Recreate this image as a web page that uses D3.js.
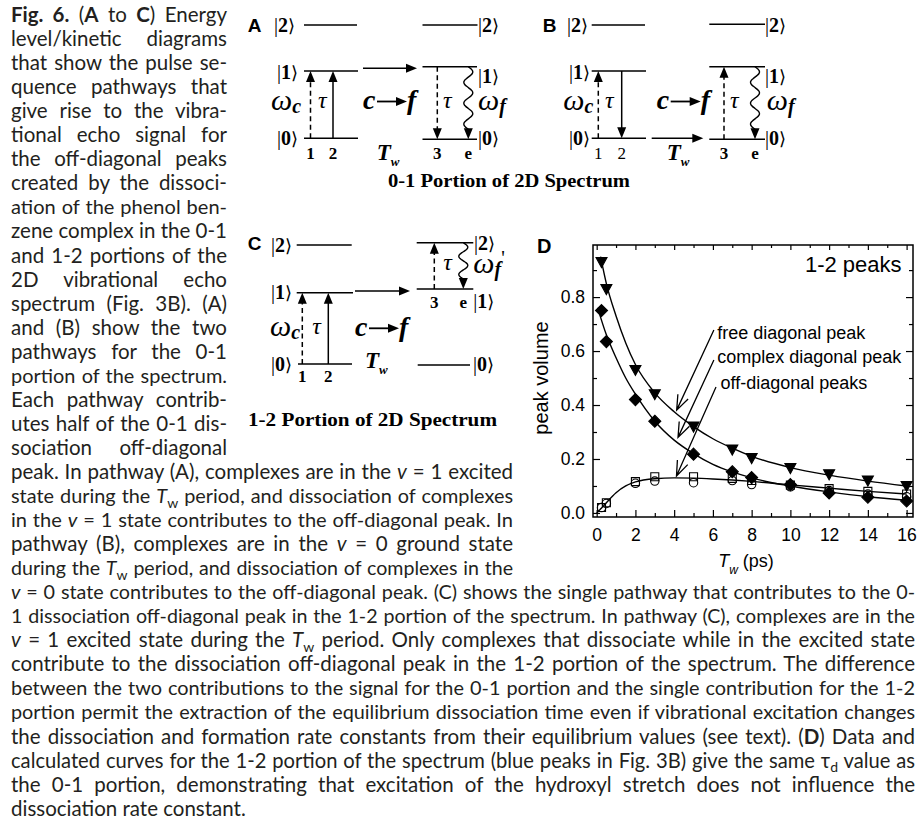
<!DOCTYPE html>
<html>
<head>
<meta charset="utf-8">
<script src="https://cdn.jsdelivr.net/npm/d3@7"></script>
<style>
  body { margin: 0; background: #fff; }
</style>
</head>
<body>
<svg id="fig" width="920" height="819"></svg>
<script>
// ---- panel D values ----
var twData = [0.25, 0.5, 2, 3, 5, 7, 8, 10, 12, 14, 16];
var freeDiag = [0.93, 0.83, 0.53, 0.44, 0.32, 0.235, 0.203, 0.166, 0.143, 0.12, 0.10];
var complexDiag = [0.75, 0.635, 0.42, 0.34, 0.218, 0.153, 0.131, 0.105, 0.074, 0.058, 0.044];
var offDiagSq = [0.02, 0.038, 0.116, 0.134, 0.134, 0.128, 0.12, 0.103, 0.09, 0.08, 0.07];
var offDiagCirc = [0.02, 0.035, 0.11, 0.118, 0.112, 0.12, 0.105, 0.097, 0.083, 0.07, 0.06];

// calculated curves
var twFree = [0.2, 0.5, 1, 1.5, 2, 3, 4, 5, 6, 7, 8, 10, 12, 14, 16];
var freeCurve = [0.95, 0.85, 0.73, 0.63, 0.55, 0.445, 0.375, 0.32, 0.275, 0.24, 0.21, 0.168, 0.14, 0.118, 0.10];
var twComplex = [0.05, 0.5, 1, 1.5, 2, 3, 4, 5, 6, 7, 8, 10, 12, 14, 16];
var complexCurve = [0.76, 0.66, 0.575, 0.5, 0.44, 0.34, 0.27, 0.22, 0.18, 0.152, 0.13, 0.1, 0.078, 0.06, 0.047];
var twOff = [0, 0.25, 0.5, 1, 1.5, 2, 3, 4, 5, 6, 7, 8, 10, 12, 14, 16];
var offCurve = [0.0, 0.018, 0.038, 0.075, 0.1, 0.115, 0.127, 0.13, 0.129, 0.126, 0.122, 0.117, 0.104, 0.092, 0.08, 0.07];

var xTicks = [0, 2, 4, 6, 8, 10, 12, 14, 16];
var xMinor = [1, 3, 5, 7, 9, 11, 13, 15];
var yTicks = [0, 0.2, 0.4, 0.6, 0.8];
var yMinor = [0.1, 0.3, 0.5, 0.7, 0.9];

// annotation labels (text, label pos, leader top, arrow tip) in data units
var annText = ["free diagonal peak", "complex diagonal peak", "off-diagonal peaks"];
var annLabel = [[6.22, 0.643], [6.22, 0.557], [6.39, 0.458]];
var annTop = [[6.05, 0.678], [6.05, 0.567], [6.16, 0.467]];
var annTip = [[4.13, 0.381], [4.2, 0.28], [4.12, 0.137]];

// ---- caption lines ----
var colLines = [
  "<b>Fig. 6.</b> (<b>A</b> to <b>C</b>) Energy",
  "level/kinetic diagrams",
  "that show the pulse se-",
  "quence pathways that",
  "give rise to the vibra-",
  "tional echo signal for",
  "the off-diagonal peaks",
  "created by the dissoci-",
  "ation of the phenol ben-",
  "zene complex in the 0-1",
  "and 1-2 portions of the",
  "2D vibrational echo",
  "spectrum (Fig. 3B). (A)",
  "and (B) show the two",
  "pathways for the 0-1",
  "portion of the spectrum.",
  "Each pathway contrib-",
  "utes half of the 0-1 dis-",
  "sociation off-diagonal"
];
var midLines = [
  "peak. In pathway (A), complexes are in the <i>v</i> = 1 excited",
  "state during the <i>T</i><s>w</s> period, and dissociation of complexes",
  "in the <i>v</i> = 1 state contributes to the off-diagonal peak. In",
  "pathway (B), complexes are in the <i>v</i> = 0 ground state",
  "during the <i>T</i><s>w</s> period, and dissociation of complexes in the"
];
var fullLines = [
  "<i>v</i> = 0 state contributes to the off-diagonal peak. (C) shows the single pathway that contributes to the 0-",
  "1 dissociation off-diagonal peak in the 1-2 portion of the spectrum. In pathway (C), complexes are in the",
  "<i>v</i> = 1 excited state during the <i>T</i><s>w</s> period. Only complexes that dissociate while in the excited state",
  "contribute to the dissociation off-diagonal peak in the 1-2 portion of the spectrum. The difference",
  "between the two contributions to the signal for the 0-1 portion and the single contribution for the 1-2",
  "portion permit the extraction of the equilibrium dissociation time even if vibrational excitation changes",
  "the dissociation and formation rate constants from their equilibrium values (see text). (<b>D</b>) Data and",
  "calculated curves for the 1-2 portion of the spectrum (blue peaks in Fig. 3B) give the same \u03c4<s>d</s> value as",
  "the 0-1 portion, demonstrating that excitation of the hydroxyl stretch does not influence the",
  "dissociation rate constant."
];

var svg = d3.select("#fig");
var sans = "'Liberation Sans', Arial, sans-serif";
var serif = "'Liberation Serif', 'Times New Roman', serif";

// ---------- caption ----------
var capX = 11, capTop = 22, capStep = 24.05, capSize = 20.5;

function capLine(k, str, right, justify) {
  var t = svg.append("text")
    .attr("x", capX)
    .attr("y", capTop + k * capStep)
    .attr("font-family", "Lato, 'Noto Sans', sans-serif")
    .attr("font-size", capSize)
    .attr("fill", "#231f20");
  var re = /<(b|i|s)>(.*?)<\/\1>|([^<]+)/g, m, spaces = 0, lift = false;
  while ((m = re.exec(str))) {
    var tag = m[1], txt = tag ? m[2] : m[3];
    var ts = t.append("tspan").text(txt);
    if (lift) { ts.attr("dy", -4.5); lift = false; }
    if (tag === "b") ts.attr("font-weight", "bold");
    if (tag === "i") ts.attr("font-style", "italic");
    if (tag === "s") { ts.attr("dy", 4.5).attr("font-size", 14); lift = true; }
    spaces += (txt.match(/ /g) || []).length;
  }
  if (justify) {
    var target = right - capX, w = t.node().getComputedTextLength();
    if (w > target) {
      // shrink this line a little so it fits, then re-measure
      t.attr("font-size", capSize * target / w * 0.985);
      w = t.node().getComputedTextLength();
    }
    if (spaces > 0) t.style("word-spacing", Math.max(0, (target - w) / spaces) + "px");
  }
}

colLines.forEach(function (s, i) { capLine(i, s, 227, true); });
midLines.forEach(function (s, i) { capLine(colLines.length + i, s, 513, true); });
fullLines.forEach(function (s, i) {
  capLine(colLines.length + midLines.length + i, s, 915, i < fullLines.length - 1);
});

// ---------- energy level diagrams ----------
var dg = svg.append("g");

function level(x1, x2, yy) {
  dg.append("line").attr("x1", x1).attr("x2", x2).attr("y1", yy).attr("y2", yy)
    .attr("stroke", "#000").attr("stroke-width", 1.6);
}
function ket(xx, yy, n) {
  var t = dg.append("text").attr("x", xx).attr("y", yy)
    .attr("font-family", serif).attr("font-size", 20);
  t.append("tspan").text("|");
  t.append("tspan").attr("font-weight", "bold").text(n);
  t.append("tspan").attr("font-family", "'DejaVu Serif', serif").attr("font-size", 18).text("\u27E9");
}
function head(xx, yy, dir) {
  var L = 11, W = 4.5, p;
  if (dir === "up") p = [[xx, yy], [xx - W, yy + L], [xx + W, yy + L]];
  else if (dir === "down") p = [[xx, yy], [xx - W, yy - L], [xx + W, yy - L]];
  else p = [[xx, yy], [xx - L, yy - W], [xx - L, yy + W]];
  dg.append("path").attr("d", "M" + p.join("L") + "Z").attr("fill", "#000");
}
function vArrow(xx, yFrom, yTo, dashed) {
  var dir = yTo < yFrom ? "up" : "down", s = dir === "up" ? 1 : -1;
  var l = dg.append("line").attr("x1", xx).attr("x2", xx)
    .attr("y1", yFrom).attr("y2", yTo + s * 10)
    .attr("stroke", "#000").attr("stroke-width", 1.5);
  if (dashed) l.attr("stroke-dasharray", "5,3.5");
  head(xx, yTo, dir);
}
function hArrow(x1, x2, yy, w) {
  dg.append("line").attr("x1", x1).attr("x2", x2 - 10).attr("y1", yy).attr("y2", yy)
    .attr("stroke", "#000").attr("stroke-width", w || 1.6);
  head(x2, yy, "right");
}
function wavy(xx, y1, y2, waves) {
  var endY = y2 - 10, n = 80, amp = 4.5;
  var pts = d3.range(n + 1).map(function (i) {
    var t = i / n;
    return [xx + amp * Math.sin(t * waves * 2 * Math.PI), y1 + t * (endY - y1)];
  });
  dg.append("path").attr("d", d3.line().curve(d3.curveBasis)(pts))
    .attr("fill", "none").attr("stroke", "#000").attr("stroke-width", 1.4);
  head(xx, y2, "down");
}
function txt(xx, yy, s, size, style, weight, anchor, fam) {
  return dg.append("text").attr("x", xx).attr("y", yy)
    .attr("font-family", fam || serif).attr("font-size", size)
    .attr("font-style", style || "normal").attr("font-weight", weight || "normal")
    .attr("text-anchor", anchor || "start").text(s);
}
function omega(xx, yy, sub, prime) {
  var t = dg.append("text").attr("x", xx).attr("y", yy).attr("font-family", serif);
  t.append("tspan").attr("font-size", 30).attr("font-style", "italic").text("\u03c9");
  t.append("tspan").attr("font-size", 20).attr("font-style", "italic")
    .attr("font-weight", "bold").attr("dy", 3).text(sub);
  if (prime) t.append("tspan").attr("font-size", 20).attr("dy", -11).text("'");
}
function cToF(xx, yy, ay) {
  txt(xx, yy, "c", 28, "italic", "bold");
  hArrow(xx + 14, xx + 44, ay, 1.8);
  txt(xx + 44, yy, "f", 28, "italic", "bold");
}
function tw(xx, yy) {
  var t = dg.append("text").attr("x", xx).attr("y", yy).attr("font-family", serif)
    .attr("font-style", "italic").attr("font-weight", "bold");
  t.append("tspan").attr("font-size", 23).text("T");
  t.append("tspan").attr("font-size", 13).attr("dy", 6).text("w");
}

// panel A
txt(247.7, 31.7, "A", 19, "normal", "bold", "start", sans);
ket(274, 32, "2"); level(304, 357, 25);
ket(277, 79, "1"); level(304, 358, 71);
ket(277, 145, "0"); level(304, 358, 138.3);
vArrow(310.5, 138.3, 71, true); vArrow(333, 138.3, 71, false);
txt(310.5, 159, "1", 17, "normal", "bold", "middle");
txt(333, 159, "2", 17, "normal", "bold", "middle");
omega(271, 110, "c");
txt(318, 108, "\u03c4", 24, "italic");
cToF(363, 109, 101.5);
tw(376.7, 160);
hArrow(363, 417, 68.3);
level(422.5, 477.5, 25); ket(478, 32, "2");
level(422.5, 477, 66.7); ket(478, 83, "1");
level(422.5, 477, 139.3); ket(478, 145, "0");
vArrow(437.3, 66.7, 139.3, true);
txt(443, 108, "\u03c4", 24, "italic");
wavy(468.3, 66.7, 139.3, 3);
omega(478, 110, "f");
txt(437.3, 159, "3", 17, "normal", "bold", "middle");
txt(468.3, 159, "e", 17, "normal", "bold", "middle");

// panel B
txt(542.7, 31.7, "B", 19, "normal", "bold", "start", sans);
ket(567, 32, "2"); level(591.7, 645, 25);
ket(569, 79, "1"); level(591.7, 646, 71);
ket(569, 145, "0"); level(591.7, 646, 138.3);
vArrow(598.3, 138.3, 71, true); vArrow(621.7, 71, 138.3, false);
txt(598.3, 159, "1", 17, "normal", "normal", "middle");
txt(621.7, 159, "2", 17, "normal", "normal", "middle");
omega(563.3, 110, "c");
txt(605, 108, "\u03c4", 24, "italic");
cToF(656.7, 109, 101.5);
hArrow(651.7, 703.3, 138.3);
tw(666.7, 160);
level(709.3, 765, 24.3); ket(765, 31.5, "2");
level(709.3, 765, 66.7); ket(765, 83, "1");
level(709.3, 765, 139.3); ket(765, 145, "0");
vArrow(724, 139.3, 66.7, true);
txt(730, 108, "\u03c4", 24, "italic");
wavy(755, 66.7, 139.3, 3);
omega(766.7, 110, "f");
txt(724, 159, "3", 17, "normal", "bold", "middle");
txt(755, 159, "e", 17, "normal", "bold", "middle");

// panel C
txt(247.7, 250, "C", 19, "normal", "bold", "start", sans);
ket(271, 252, "2"); level(296.7, 351.7, 245);
ket(271, 299, "1"); level(296.7, 353, 292.7);
ket(271, 371, "0"); level(298, 352, 364);
vArrow(302.3, 364, 292.7, true); vArrow(328.3, 364, 292.7, false);
txt(302.3, 382, "1", 17, "normal", "bold", "middle");
txt(328.3, 382, "2", 17, "normal", "bold", "middle");
omega(270, 336, "c");
txt(312.3, 334, "\u03c4", 24, "italic");
cToF(355, 336, 328.3);
hArrow(355, 410, 291);
tw(365, 368);
level(416.7, 473.3, 242.7); ket(474, 250, "2");
level(416.7, 473.3, 289); ket(473.3, 308, "1");
level(417.7, 470, 365); ket(473, 371, "0");
vArrow(434.3, 289, 242.7, true);
txt(443.3, 270, "\u03c4", 24, "italic");
wavy(463.3, 242.7, 289, 2);
omega(473.3, 273, "f", true);
txt(434.3, 308, "3", 17, "normal", "bold", "middle");
txt(463.3, 308, "e", 17, "normal", "bold", "middle");

txt(509, 187, "0-1 Portion of 2D Spectrum", 19, "normal", "bold", "middle")
  .attr("textLength", 242).attr("lengthAdjust", "spacingAndGlyphs");
txt(372.5, 426, "1-2 Portion of 2D Spectrum", 19, "normal", "bold", "middle")
  .attr("textLength", 249).attr("lengthAdjust", "spacingAndGlyphs");

// ---------- panel D ----------
var x = d3.scaleLinear().domain([-0.19, 16.33]).range([593, 913]);
var y = d3.scaleLinear().domain([-0.015, 0.993]).range([517, 245]);
var g = svg.append("g").attr("font-family", sans);

function tickAxis(axis, transform, vals, size, fmt) {
  var a = g.append("g").attr("transform", transform)
    .call(axis.tickValues(vals).tickSize(size).tickFormat(fmt || ""));
  a.select(".domain").remove();
  a.selectAll("line").attr("stroke", "#000").attr("stroke-width", 1.2);
  return a;
}
var xb = tickAxis(d3.axisBottom(x).tickPadding(11.5), "translate(0,517)", xTicks, -7, d3.format("d"));
tickAxis(d3.axisBottom(x), "translate(0,517)", xMinor, -4);
tickAxis(d3.axisTop(x), "translate(0,245)", xTicks, -5);
tickAxis(d3.axisTop(x), "translate(0,245)", xMinor, -3);
var yl = tickAxis(d3.axisLeft(y).tickPadding(8), "translate(593,0)", yTicks, -7, d3.format(".1f"));
tickAxis(d3.axisLeft(y), "translate(593,0)", yMinor, -4);
tickAxis(d3.axisRight(y), "translate(913,0)", yTicks, -7);
tickAxis(d3.axisRight(y), "translate(913,0)", yMinor, -4);
[xb, yl].forEach(function (a) {
  a.selectAll("text").attr("font-size", 17.5).attr("font-family", sans).attr("fill", "#000");
});

g.append("rect").attr("x", 593).attr("y", 245).attr("width", 320).attr("height", 272)
  .attr("fill", "none").attr("stroke", "#000").attr("stroke-width", 1.5);

var line = d3.line().curve(d3.curveMonotoneX)
  .x(function (d) { return x(d[0]); }).y(function (d) { return y(d[1]); });
[[twFree, freeCurve], [twComplex, complexCurve], [twOff, offCurve]].forEach(function (c) {
  g.append("path").datum(d3.zip(c[0], c[1])).attr("d", line)
    .attr("fill", "none").attr("stroke", "#000").attr("stroke-width", 1.4);
});

var symTri = "M-5.5,-4.5L5.5,-4.5L0,5.5Z";
var symDia = "M0,-6L6,0L0,6L-6,0Z";
var symSq = "M-4,-4H4V4H-4Z";
function points(vals, d, fill) {
  g.append("g").selectAll("path").data(d3.zip(twData, vals)).join("path")
    .attr("transform", function (p) { return "translate(" + x(p[0]) + "," + y(p[1]) + ")"; })
    .attr("d", d).attr("fill", fill ? "#000" : "none")
    .attr("stroke", "#000").attr("stroke-width", 1.1);
}
points(freeDiag, symTri, true);
points(complexDiag, symDia, true);
points(offDiagSq, symSq, false);
g.append("g").selectAll("circle").data(d3.zip(twData, offDiagCirc)).join("circle")
  .attr("cx", function (p) { return x(p[0]); }).attr("cy", function (p) { return y(p[1]); })
  .attr("r", 4.2).attr("fill", "none").attr("stroke", "#000").attr("stroke-width", 1.1);

// labels with leader arrows
annText.forEach(function (s, i) {
  g.append("text").attr("x", x(annLabel[i][0])).attr("y", y(annLabel[i][1]))
    .attr("font-size", 18).text(s);
  var x1 = x(annTop[i][0]), y1 = y(annTop[i][1]), x2 = x(annTip[i][0]), y2 = y(annTip[i][1]);
  var ang = Math.atan2(y1 - y2, x1 - x2), L = 16, spread = 0.36;
  var h1 = [x2 + L * Math.cos(ang + spread), y2 + L * Math.sin(ang + spread)];
  var h2 = [x2 + L * Math.cos(ang - spread), y2 + L * Math.sin(ang - spread)];
  g.append("path")
    .attr("d", "M" + x1 + "," + y1 + "L" + x2 + "," + y2 + "M" + h1 + "L" + x2 + "," + y2 + "L" + h2)
    .attr("fill", "none").attr("stroke", "#000").attr("stroke-width", 1.3);
});

g.append("text").attr("x", x(15.74)).attr("y", y(0.894)).attr("text-anchor", "end")
  .attr("font-size", 22).text("1-2 peaks");
g.append("text").attr("x", 537).attr("y", 253).attr("font-size", 20)
  .attr("font-weight", "bold").text("D");
g.append("text").attr("transform", "translate(548,378) rotate(-90)")
  .attr("text-anchor", "middle").attr("font-size", 20).text("peak volume");
var xt = g.append("text").attr("x", 746).attr("y", 566.7).attr("text-anchor", "middle")
  .attr("font-size", 18);
xt.append("tspan").attr("font-style", "italic").text("T");
xt.append("tspan").attr("font-style", "italic").attr("font-size", 12).attr("dy", 7).text("w");
xt.append("tspan").attr("dy", -7).text(" (ps)");
</script>
</body>
</html>
